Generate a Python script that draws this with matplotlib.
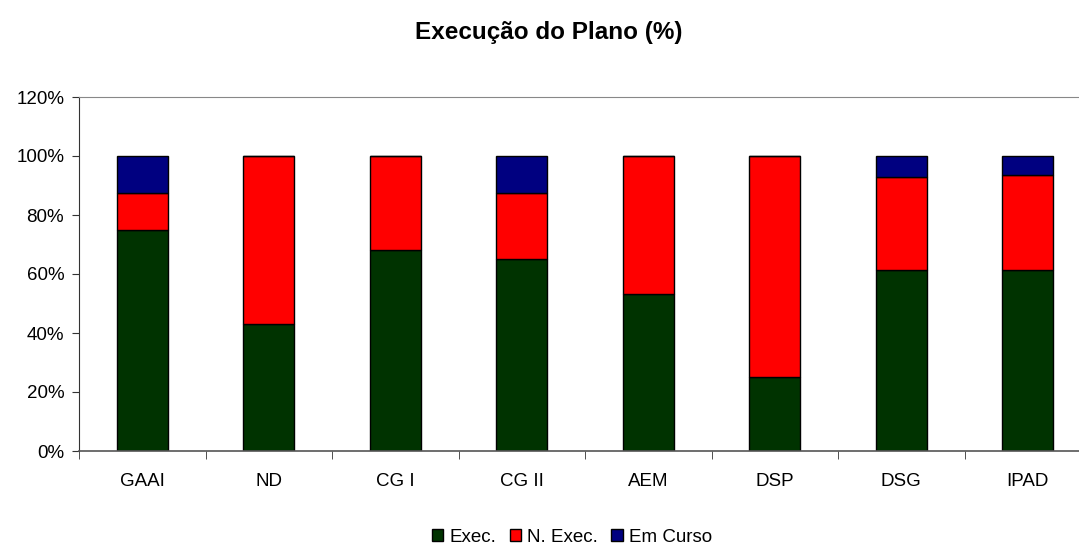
import matplotlib
matplotlib.use('Agg')
import matplotlib.pyplot as plt
import numpy as np
from matplotlib.ticker import FuncFormatter

categorias = ["GAAI", "ND", "CG I", "CG II", "AEM", "DSP", "DSG", "IPAD"]
executado = [75.0, 42.9, 68.2, 65.0, 53.3, 25.0, 61.5, 61.5]
nao_executado = [12.5, 57.1, 31.8, 22.5, 46.7, 75.0, 31.5, 32.0]
em_curso = [12.5, 0.0, 0.0, 12.5, 0.0, 0.0, 7.0, 6.5]

plt.rcParams['font.family'] = ['Liberation Sans', 'DejaVu Sans']

fig = plt.figure(figsize=(10.79, 5.45), dpi=100)
# a área do gráfico original passa da margem direita da imagem
ax = fig.add_axes([79 / 1079, 1 - 451 / 545, 1012 / 1079, 354 / 545])

x = np.arange(len(categorias))
largura = 0.4
base2 = np.array(executado)
base3 = base2 + np.array(nao_executado)

ax.bar(x, executado, largura, color='#003300', edgecolor='black', linewidth=1, label='Exec.')
ax.bar(x, nao_executado, largura, bottom=base2, color='#FF0000', edgecolor='black', linewidth=1, label='N. Exec.')
ax.bar(x, em_curso, largura, bottom=base3, color='#000080', edgecolor='black', linewidth=1, label='Em Curso')

ax.set_xlim(-0.5, len(categorias) - 0.5)
ax.set_ylim(0, 120)
ax.set_yticks(range(0, 121, 20))
ax.yaxis.set_major_formatter(FuncFormatter(lambda v, p: f"{v:.0f}%"))
ax.set_xticks(x)
ax.set_xticklabels(categorias)
ax.set_xticks(np.arange(-0.5, len(categorias), 1), minor=True)
ax.tick_params(axis='x', which='major', length=0, pad=16, labelsize=13.5)
ax.tick_params(axis='x', which='minor', length=5.4, direction='out', color='#333333')
ax.tick_params(axis='y', length=4.7, direction='out', labelsize=13.5, pad=6, color='#333333')

ax.spines['top'].set_color('#888888')
ax.spines['right'].set_color('#888888')
ax.spines['left'].set_color('#333333')
ax.spines['bottom'].set_color('#555555')
ax.spines['bottom'].set_linewidth(1.2)

fig.text(549 / 1079, 1 - 32 / 545, "Execução do Plano (%)", ha='center', va='center',
         fontsize=17.5, fontweight='bold')

fig.legend(loc='center', bbox_to_anchor=(572 / 1079, 1 - 537 / 545), ncol=3, frameon=False,
           fontsize=13.5, handlelength=0.6, handleheight=0.6, handletextpad=0.35,
           columnspacing=0.7, borderaxespad=0, borderpad=0)

fig.savefig('out.png', dpi=100)
